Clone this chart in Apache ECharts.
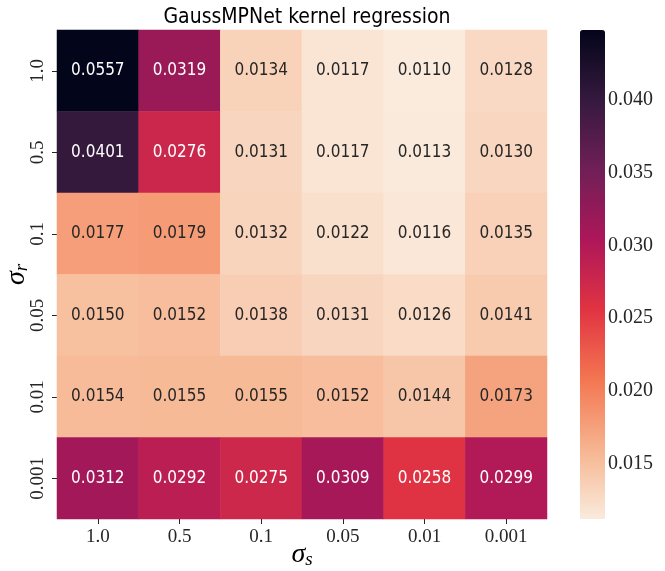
<!DOCTYPE html>
<html>
<head>
<meta charset="utf-8">
<script src="https://cdn.jsdelivr.net/npm/echarts@6/dist/echarts.min.js"></script>
<style>
  html, body { margin: 0; padding: 0; background: #fff; }
  #main { width: 665px; height: 571px; }
</style>
</head>
<body>
<div id="main"></div>
<script>
// sigma_s along x, sigma_r along y (top row first)
var sigmaS = ['1.0', '0.5', '0.1', '0.05', '0.01', '0.001'];
var sigmaR = ['1.0', '0.5', '0.1', '0.05', '0.01', '0.001'];

var row_1_0 = [0.0557, 0.0319, 0.0134, 0.0117, 0.0110, 0.0128];
var row_0_5 = [0.0401, 0.0276, 0.0131, 0.0117, 0.0113, 0.0130];
var row_0_1 = [0.0177, 0.0179, 0.0132, 0.0122, 0.0116, 0.0135];
var row_0_05 = [0.0150, 0.0152, 0.0138, 0.0131, 0.0126, 0.0141];
var row_0_01 = [0.0154, 0.0155, 0.0155, 0.0152, 0.0144, 0.0173];
var row_0_001 = [0.0312, 0.0292, 0.0275, 0.0309, 0.0258, 0.0299];

var colorbarTicks = [0.015, 0.020, 0.025, 0.030, 0.035, 0.040];

// rocket_r
var rocketR = ['#faebdd', '#f6b48f', '#f37651', '#e13342', '#ad1759', '#701f57', '#35193e', '#03051a'];

var rows = [row_1_0, row_0_5, row_0_1, row_0_05, row_0_01, row_0_001];

// color range like seaborn robust=True (2nd / 98th percentile)
function percentile(arr, q) {
  var s = arr.slice().sort(function (a, b) { return a - b; });
  var idx = (s.length - 1) * q;
  var lo = Math.floor(idx), hi = Math.ceil(idx);
  return s[lo] + (s[hi] - s[lo]) * (idx - lo);
}
var all = [].concat.apply([], rows);
var vmin = percentile(all, 0.02);
var vmax = percentile(all, 0.98);

var data = [];
rows.forEach(function (row, j) {
  row.forEach(function (v, i) {
    data.push({
      value: [i, j, v],
      label: { color: v > 0.0195 ? '#ffffff' : '#262626' }
    });
  });
});

var serif = '"Liberation Serif", "DejaVu Serif", serif';
var sans = '"Liberation Sans Narrow", "DejaVu Sans Condensed", "Liberation Sans", sans-serif';

var nameRich = {
  a: { fontFamily: serif, fontStyle: 'italic', fontSize: 28, color: '#000', verticalAlign: 'bottom', lineHeight: 30 },
  b: { fontFamily: serif, fontStyle: 'italic', fontSize: 19, color: '#000', verticalAlign: 'bottom', lineHeight: 22 }
};

var chart = echarts.init(document.getElementById('main'));
chart.setOption({
  animation: false,
  title: {
    text: 'GaussMPNet kernel regression',
    left: 302,
    textAlign: 'center',
    top: 2,
    textStyle: { fontFamily: sans, fontSize: 21, fontWeight: 'normal', color: '#000' }
  },
  grid: [
    { left: 57, top: 30, width: 490, height: 489, outerBoundsMode: 'none', containLabel: false },
    { left: 580, top: 30, width: 25, height: 489, outerBoundsMode: 'none', containLabel: false }
  ],
  xAxis: [{
    type: 'category',
    data: sigmaS,
    gridIndex: 0,
    name: '{a|σ}{b|s}',
    nameLocation: 'middle',
    nameGap: 20,
    nameMoveOverlap: false,
    nameTextStyle: { rich: nameRich },
    axisLine: { show: false },
    axisTick: { show: true, alignWithLabel: true, length: 5, lineStyle: { color: '#262626' } },
    axisLabel: { fontFamily: serif, fontSize: 19, color: '#262626', margin: 9 },
    splitLine: { show: false }
  }, {
    type: 'value',
    gridIndex: 1,
    show: false
  }],
  yAxis: [{
    type: 'category',
    data: sigmaR,
    inverse: true,
    gridIndex: 0,
    name: '{a|σ}{b|r}',
    nameLocation: 'middle',
    nameRotate: 90,
    nameGap: 26,
    nameMoveOverlap: false,
    nameTextStyle: { rich: nameRich },
    axisLine: { show: false },
    axisTick: { show: true, alignWithLabel: true, length: 5, lineStyle: { color: '#262626' } },
    axisLabel: { fontFamily: serif, fontSize: 19, color: '#262626', rotate: 90, margin: 9 },
    splitLine: { show: false }
  }, {
    type: 'value',
    gridIndex: 1,
    position: 'right',
    min: vmin,
    max: vmax,
    axisLine: { show: false },
    axisTick: { show: true, length: 5, customValues: colorbarTicks, lineStyle: { color: '#262626' } },
    axisLabel: {
      fontFamily: serif, fontSize: 20, color: '#262626', margin: 3,
      customValues: colorbarTicks,
      formatter: function (v) { return v.toFixed(3); }
    },
    splitLine: { show: false }
  }],
  visualMap: {
    type: 'continuous',
    seriesIndex: 0,
    min: vmin,
    max: vmax,
    calculable: false,
    orient: 'vertical',
    left: 580,
    top: 30,
    padding: 0,
    itemWidth: 25,
    itemHeight: 489,
    text: null,
    inRange: { color: rocketR }
  },
  series: [{
    type: 'heatmap',
    xAxisIndex: 0,
    yAxisIndex: 0,
    data: data,
    label: {
      show: true,
      fontFamily: sans,
      fontSize: 17,
      formatter: function (p) { return p.value[2].toFixed(4); }
    },
    emphasis: { disabled: true }
  }]
});
</script>
</body>
</html>
